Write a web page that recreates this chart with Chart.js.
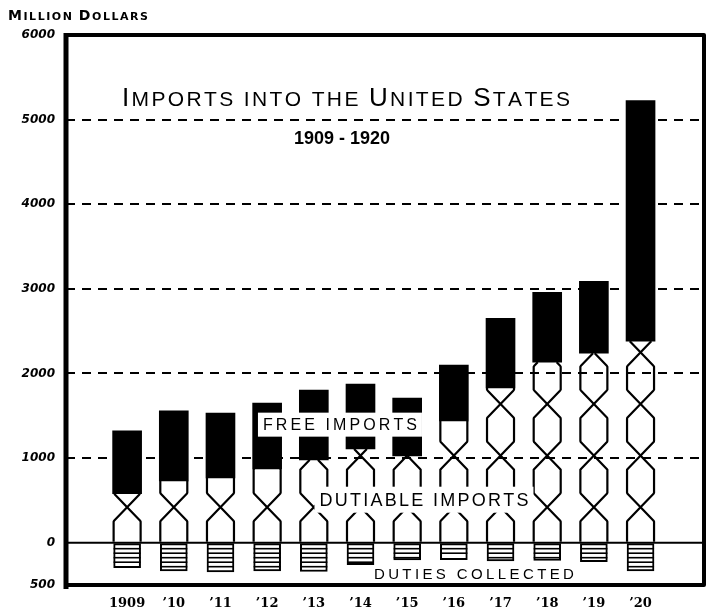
<!DOCTYPE html>
<html>
<head>
<meta charset="utf-8">
<script src="https://cdn.jsdelivr.net/npm/chart.js@4/dist/chart.umd.min.js"></script>
<style>
  html, body { margin: 0; padding: 0; background: #fff; }
</style>
</head>
<body>
<canvas id="chart" width="710" height="612"></canvas>
<script>
// values, million dollars
const years = ['1909', '\u201910', '\u201911', '\u201912', '\u201913', '\u201914', '\u201915', '\u201916', '\u201917', '\u201918', '\u201919', '\u201920'];
const dutiable = [578, 731, 766, 873, 979, 1108, 1026, 1439, 1828, 2134, 2240, 2382];
const freeImports = [743, 826, 767, 778, 825, 767, 684, 660, 825, 826, 850, 2842];
const duties = [295, 335, 345, 335, 340, 260, 205, 200, 215, 210, 225, 335];
const yTicks = [-500, 0, 1000, 2000, 3000, 4000, 5000, 6000];

const ink = '#000';

// draws text where capitals are big and lower case letters are small capitals,
// spread out to a given width
function capsText(ctx, text, x, baseline, big, small, family, weight, width, align) {
  const runs = [];
  for (const ch of text) {
    const isBig = ch !== ' ' && ch === ch.toUpperCase();
    runs.push({ t: ch.toUpperCase(), f: weight + ' ' + (isBig ? big : small) + 'px ' + family });
  }
  let w0 = 0;
  ctx.letterSpacing = '0px';
  runs.forEach(r => { ctx.font = r.f; r.w = ctx.measureText(r.t).width; w0 += r.w; });
  const gap = width ? (width - w0) / (runs.length - 1) : 0;
  let cx = align === 'center' ? x - (w0 + gap * (runs.length - 1)) / 2 : x;
  ctx.textAlign = 'left';
  ctx.textBaseline = 'alphabetic';
  runs.forEach(r => {
    ctx.font = r.f;
    ctx.fillText(r.t, cx, baseline);
    cx += r.w + gap;
  });
}

const drawing = {
  id: 'drawing',
  afterDatasetsDraw(chart) {
    const { ctx, chartArea: area, scales: { x, y } } = chart;
    ctx.save();
    ctx.strokeStyle = ink;
    ctx.fillStyle = ink;

    // twisted rope for dutiable imports
    const crossings = [];
    for (let v = 420; v < 6000; v += 610) crossings.push(y.getPixelForValue(v));
    const d = 14;
    const side = py => {
      let s = -1;
      for (const c of crossings) {
        if (py >= c + d) return s;
        if (py > c - d) return s * (1 - (c + d - py) / d);
        s = -s;
      }
      return s;
    };
    ctx.lineWidth = 2.2;
    ctx.lineJoin = 'round';
    chart.getDatasetMeta(0).data.forEach(bar => {
      const p = bar.getProps(['x', 'y', 'base', 'width'], true);
      const half = p.width / 2 - 1;
      [1, -1].forEach(dir => {
        ctx.beginPath();
        for (let py = p.base; py >= p.y; py -= 1) {
          const px = p.x + dir * side(py) * half;
          if (py === p.base) ctx.moveTo(px, py); else ctx.lineTo(px, py);
        }
        ctx.lineTo(p.x + dir * side(p.y) * half, p.y);
        ctx.stroke();
      });
    });

    // stripes in the duties bars
    ctx.lineWidth = 1.6;
    chart.getDatasetMeta(2).data.forEach(bar => {
      const p = bar.getProps(['x', 'y', 'base', 'width'], true);
      const half = p.width / 2;
      for (let py = p.base + 5; py < p.y - 2; py += 4.5) {
        ctx.beginPath();
        ctx.moveTo(p.x - half, py);
        ctx.lineTo(p.x + half, py);
        ctx.stroke();
      }
    });

    // labels inside the plot, with white boxes behind
    const labels = [
      { text: 'FREE IMPORTS', vx: 4.56, vy: 1395, bw: 164, bh: 24, size: 16, tw: 154 },
      { text: 'DUTIABLE IMPORTS', vx: 6.36, vy: 508, bw: 219, bh: 26, size: 18, tw: 209 },
      { text: 'DUTIES COLLECTED', vx: 7.43, vy: -360, bw: 0, bh: 0, size: 15, tw: 200 }
    ];
    labels.forEach(l => {
      const cx = x.getPixelForValue(l.vx);
      const cy = y.getPixelForValue(l.vy);
      if (l.bw) {
        ctx.fillStyle = '#fff';
        ctx.fillRect(cx - l.bw / 2, cy - l.bh / 2, l.bw, l.bh);
      }
      ctx.fillStyle = ink;
      capsText(ctx, l.text, cx, cy + l.size * 0.36, l.size, l.size, "'Liberation Sans'", 'normal', l.tw, 'center');
    });

    // frame and zero line
    const zero = y.getPixelForValue(0);
    ctx.lineWidth = 2;
    ctx.beginPath();
    ctx.moveTo(area.left, zero);
    ctx.lineTo(area.right, zero);
    ctx.stroke();
    ctx.lineWidth = 4;
    ctx.beginPath();
    ctx.moveTo(area.left, area.top);
    ctx.lineTo(area.right, area.top);
    ctx.lineTo(area.right, area.bottom);
    ctx.lineTo(area.left, area.bottom);
    ctx.stroke();
    ctx.lineWidth = 5;
    ctx.beginPath();
    ctx.moveTo(area.left, area.top - 2);
    ctx.lineTo(area.left, area.bottom + 4);
    ctx.stroke();

    // headings
    capsText(ctx, 'Million Dollars', 8, 20, 14, 11, "'DejaVu Sans'", 'bold', 140, 'left');
    capsText(ctx, 'Imports into the United States', 122, 106, 26, 21, "'Liberation Sans'", 'normal', 448, 'left');
    ctx.font = "bold 18px 'Liberation Sans'";
    ctx.textAlign = 'center';
    ctx.fillText('1909 - 1920', 342, 144);
    ctx.restore();
  }
};

new Chart(document.getElementById('chart'), {
  type: 'bar',
  data: {
    datasets: [
      {
        label: 'Dutiable imports',
        data: years.map((_, i) => ({ x: i, y: dutiable[i] })),
        backgroundColor: 'rgba(0,0,0,0)',
        borderWidth: 0,
        barThickness: 29
      },
      {
        label: 'Free imports',
        data: years.map((_, i) => ({ x: i, y: freeImports[i] })),
        backgroundColor: ink,
        borderWidth: 0,
        barThickness: 29
      },
      {
        label: 'Duties collected',
        data: years.map((_, i) => ({ x: i, y: -duties[i] })),
        backgroundColor: '#fff',
        borderColor: ink,
        borderWidth: 2,
        borderSkipped: false,
        barThickness: 27
      }
    ]
  },
  options: {
    responsive: false,
    animation: false,
    layout: { padding: { top: 35, right: 6, left: 0, bottom: 0 } },
    plugins: {
      legend: { display: false },
      tooltip: { enabled: false }
    },
    scales: {
      x: {
        type: 'linear',
        stacked: true,
        min: -0.74,
        max: 11.79,
        afterBuildTicks: s => { s.ticks = years.map((_, i) => ({ value: i })); },
        afterFit: s => { s.height = 27; },
        grid: { display: false, drawTicks: false },
        border: { display: false },
        ticks: {
          autoSkip: false,
          maxRotation: 0,
          padding: 11,
          color: ink,
          font: { family: "'DejaVu Serif'", size: 13, weight: 'bold' },
          callback: v => years[v]
        }
      },
      y: {
        stacked: true,
        min: -500,
        max: 6000,
        afterBuildTicks: s => { s.ticks = yTicks.map(v => ({ value: v })); },
        afterFit: s => { s.width = 66; },
        grid: {
          drawTicks: false,
          lineWidth: 2,
          color: c => (c.tick && c.tick.value >= 1000 && c.tick.value <= 5000) ? ink : 'rgba(0,0,0,0)'
        },
        border: { display: false, dash: [9, 7] },
        ticks: {
          padding: 11,
          color: ink,
          font: { family: "'DejaVu Sans'", size: 12, weight: 'bold', style: 'italic' },
          callback: v => String(Math.abs(v))
        }
      }
    }
  },
  plugins: [drawing]
});
</script>
</body>
</html>
